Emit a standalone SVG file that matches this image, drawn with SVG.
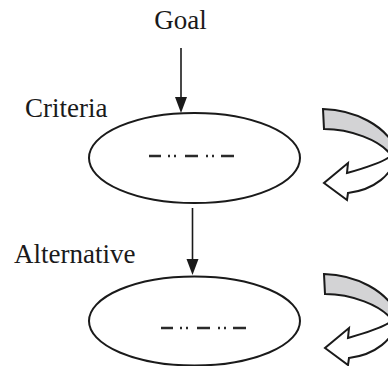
<svg xmlns="http://www.w3.org/2000/svg" width="388" height="366" viewBox="0 0 388 366">
  <style>
    .label { font-family: "Liberation Serif", "Times New Roman", serif; font-size: 27px; fill: #1a1a1a; }
    .node { fill: #ffffff; stroke: #1a1a1a; stroke-width: 2; }
    .dash { stroke: #2a2a2a; stroke-width: 2.5; fill: none; }
    .edge { stroke: #1a1a1a; stroke-width: 1.6; fill: none; }
    .head { fill: #1a1a1a; }
    .band { stroke: #1a1a1a; stroke-width: 2; stroke-linejoin: miter; }
  </style>
  <defs>
    <!-- placeholder text inside each ellipse: long dash, two dots, repeated -->
    <g id="dashline">
      <path class="dash" d="M0,0 h12 M19,0 h2 M25,0 h2 M36,0 h13 M57,0 h2 M63,0 h2 M72,0 h13"/>
    </g>
    <!-- U-turn ribbon arrow, grey upper face and white lower face -->
    <g id="cycle">
      <path class="band" fill="#d3d3d5" d="M323,109 C355,110 385,125 397,150 L391,155 C380,140 350,129 324,129 Z"/>
      <path class="band" fill="#ffffff" d="M397,150 C395,176 372,190 348,193 L347,200 L324,183 L348,163 L347,173 C368,167 388,160 391,155 Z"/>
    </g>
  </defs>

  <rect width="388" height="366" fill="#ffffff"/>

  <g id="goal">
    <text class="label" x="180.5" y="29" text-anchor="middle">Goal</text>
  </g>

  <g id="criteria">
    <text class="label" x="25" y="117">Criteria</text>
    <ellipse class="node" cx="194.5" cy="158" rx="105.5" ry="45"/>
    <use href="#dashline" x="149" y="156"/>
    <use href="#cycle"/>
  </g>

  <g id="alternative">
    <text class="label" x="14" y="263">Alternative</text>
    <ellipse class="node" cx="194.5" cy="321" rx="105.5" ry="44.5"/>
    <use href="#dashline" x="161" y="328"/>
    <use href="#cycle" x="1" y="165"/>
  </g>

  <g id="connectors">
    <line class="edge" x1="181" y1="48" x2="181" y2="100"/>
    <polygon class="head" points="175,97 187,97 181,113"/>
    <line class="edge" x1="192.5" y1="208" x2="192.5" y2="262"/>
    <polygon class="head" points="186.5,259 198.5,259 192.5,275"/>
  </g>
</svg>
